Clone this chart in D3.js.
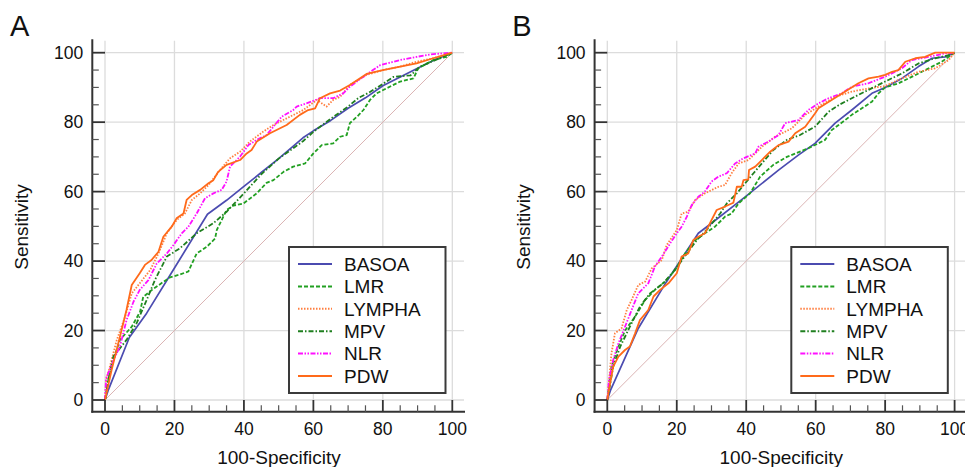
<!DOCTYPE html>
<html><head><meta charset="utf-8">
<script src="https://cdn.jsdelivr.net/npm/d3@7"></script>
<style>body{margin:0;background:#fff}svg{display:block}text{font-family:"Liberation Sans",Arial,sans-serif;fill:#111}</style>
</head><body><svg id="c" width="965" height="467"></svg>
<script>
const seriesNames = ["BASOA","LMR","LYMPHA","MPV","NLR","PDW"];
const xTicks = [0,20,40,60,80,100];
const yTicks = [0,20,40,60,80,100];
const panelLabels = ["A","B"];

// Panel A curves: [100-Specificity, Sensitivity]
const basoaA = [[0,0],[1,3],[7,18],[12,25],[20,38],[29.5,53.5],[35,57.5],[40,61.5],[45,65.5],[50,69.5],[57,75.5],[60,77.5],[65,80.5],[70,84],[75,87],[80,90.5],[85,93],[90,95.5],[95,98],[100,100]];
const lmrA = [[0,0],[1,6],[2.5,12],[4.3,17.3],[7.7,21.1],[10.1,25.4],[11,29.7],[13.5,31.7],[16.8,34],[18.7,35.3],[21.1,36],[24,37],[26.4,42.2],[29.3,44.1],[31.7,46.5],[32.2,49],[33.6,51.8],[35,54.7],[37,56],[39.9,56.6],[43.7,59.5],[46.5,62.5],[48.5,63.3],[51.4,65.7],[54.2,67.2],[57.6,68.1],[60,71],[62.4,73.4],[65.7,73.9],[67.7,75.8],[69.6,76.3],[70.5,79.7],[73,82],[74.4,83.5],[76.3,86.4],[78.2,88.3],[81,89.7],[85,91.7],[88.8,92.6],[90.2,95.5],[94.5,97.9],[98.4,98.8],[100,100]];
const lymphaA = [[0,0],[0.4,6],[1.4,9.6],[3.4,17.3],[5.8,24],[7.7,30.7],[10,33.6],[13,37.4],[15.4,42.2],[17.8,48],[20.6,51.8],[23,53.7],[25,57.6],[27.4,59.5],[29.8,61.9],[33.1,66.2],[36,69.6],[38.9,71.5],[41.7,74.4],[45.6,77.3],[48.5,79.2],[52.3,81.1],[57.1,83.5],[61,86.4],[63.8,84.5],[65.7,86.4],[67.7,87.3],[70.5,90.7],[75.3,93.6],[80,95],[85,96],[89.7,97.4],[94.5,98.4],[100,100]];
const mpvA = [[0,0],[1,6],[2.4,12.5],[6.2,17.3],[9.1,22.1],[12,28.8],[14.4,34.6],[17.8,41.3],[21.6,43.7],[26.4,48],[31.2,50.9],[35,54.2],[40,59.5],[45,65],[50,69.5],[57,74.5],[60,77.2],[65,81],[70,84.5],[73,87],[76,88.5],[80,91],[83,93],[88,93.5],[90.7,96],[96.4,98.4],[100,100]];
const nlrA = [[0,0],[0.3,6.2],[2.9,12.5],[4.3,15.4],[6.2,23],[8.2,28.3],[10,31.7],[12.5,34.5],[14.9,39.3],[17.8,42.2],[19.7,44.6],[22.1,48],[24,49.9],[26.4,53.7],[28.8,58.1],[31.2,59.5],[33.6,60.5],[35,62.9],[36,67.2],[38.9,70.1],[41.3,73.4],[43.7,74.9],[46.5,76.3],[48.5,78.7],[50.9,81.6],[54.2,83.5],[55.2,84.5],[58,85.4],[61.9,86.9],[65.7,86.9],[68.6,88.3],[70.5,90.2],[74.4,93.1],[79.2,96.4],[85,97.9],[89.7,98.8],[94.5,99.6],[100,100]];
const pdwA = [[0,0],[1.9,8.6],[4.3,18.2],[6.2,26],[7.7,33.1],[10,36.5],[11.5,38.9],[13.4,40.3],[15.4,42.7],[16.8,47],[19.2,49.9],[20.6,52.3],[22.6,53.7],[23.5,57.6],[25,59],[27.4,60.5],[29.8,62.4],[31.2,63.3],[32.6,65.7],[35,67.7],[38.9,69.1],[40.8,71],[42.2,72],[43.7,74.4],[47.5,76.8],[52.3,79.2],[56.1,82.1],[58.5,83.5],[60.5,84],[61.9,86.9],[64.8,88.3],[67.7,89.1],[70.5,90.7],[75.3,93.9],[80,95],[85,96],[89.7,96.9],[94.5,98.4],[100,100]];

// Panel B curves
const basoaB = [[0,0],[1,3],[8.9,20.6],[17,34],[26.2,48],[30,50.9],[39.7,58.5],[49.3,66.2],[55,70.5],[59.8,73.9],[65.6,79.7],[70.4,83.5],[76.2,88.3],[80,90],[84.8,92.6],[89.6,96],[93.5,98.4],[97.3,98.8],[100,100]];
const lmrB = [[0,0],[1.2,9.6],[3.2,15.4],[5.1,20],[8,24],[10.9,28.8],[13.7,31.7],[16.6,34.1],[19.5,37.4],[22.4,42.2],[25.3,46],[28.1,48],[31,49.9],[33.9,52.8],[35.8,53.7],[37.8,56.6],[41.1,59.5],[44,64.3],[47.8,67.7],[51.7,70],[55.5,71.5],[57.9,72.5],[60.8,73.9],[62.7,74.9],[64.6,77.7],[66.6,79.2],[68.5,80.6],[70.4,82.1],[73.3,84],[76.2,85.9],[78.1,88.3],[80,90],[83.9,91.2],[86.7,92.6],[89.6,94],[93.5,96],[96.3,97.4],[99.2,99.5],[100,100]];
const lymphaB = [[0,0],[1.2,13.4],[2.2,19.2],[4.1,20.6],[5.6,25.9],[7,28.8],[8.9,33.1],[10.9,34.1],[12.8,37.9],[15.7,40.3],[17.1,44.6],[20,48.9],[21.4,53.7],[23.3,54.2],[25.3,57.6],[28.1,59.5],[32,61.4],[33.9,61.9],[35.8,65.3],[37.8,68.1],[40.6,69.1],[42.6,71],[44.5,72.9],[48.3,75.8],[53.1,78.2],[57,82.1],[60.8,84.5],[65.6,87.3],[70.4,88.8],[75.2,89.7],[80,90.4],[84.8,92.6],[89.6,94.5],[94.4,95.5],[98.3,97.9],[100,100]];
const mpvB = [[0,0],[1.7,9.6],[3.7,15.3],[6.5,21.1],[9.4,26.9],[12.3,30.7],[16.1,33.6],[19,36.9],[21.9,40.8],[25.8,46.1],[28.6,49],[32.5,53.7],[34.4,56.6],[37.3,59.5],[42.1,65.3],[47.8,72],[51.7,74.9],[55.5,76.3],[59.8,78.7],[63.7,83],[66.6,84.9],[70.4,86.9],[75.2,89.3],[80,91.7],[84.8,94],[89.6,96.9],[94.4,98.4],[98.3,99.3],[100,100]];
const nlrB = [[0,0],[0.5,5.8],[1.7,11.5],[3.2,16.3],[5.1,21.1],[7,25.9],[8.9,30.7],[11.8,33.6],[13.7,38.4],[15.7,41.3],[18.1,45.1],[20,48],[21.4,49.9],[22.9,52.8],[24.3,56.1],[26.2,58.5],[28.1,60],[30,62.9],[32,64.3],[34.4,65.3],[36.8,68.1],[39.2,69.6],[42.6,71],[43.5,72.9],[46.4,74.4],[49.3,76.3],[51.2,79.7],[55,80.6],[57.9,83.5],[60.8,85.4],[63.7,86.9],[67.5,88.3],[70.4,90.2],[75.2,91.2],[80,93.1],[84.8,95.5],[87.7,97.9],[92.5,98.8],[97.3,99.8],[100,100]];
const pdwB = [[0,0],[0.3,1.9],[1.7,9.6],[3.2,12.5],[5.1,14.4],[6.5,15.4],[8,19.2],[9.4,23],[11.8,25.9],[13.3,29.8],[15.2,31.7],[17.6,33.6],[20,36.5],[21.4,41.3],[23.3,42.2],[24.8,46.1],[26.2,47],[28.1,48],[30,51.8],[31.5,54.7],[33.9,55.7],[36.3,56.8],[37.3,61.4],[38.7,61.4],[39.2,63.3],[40.6,63.5],[40.8,66.2],[42.6,67.2],[44.5,69.1],[46.9,71.5],[49.3,73.4],[52.2,74.4],[54.1,76.8],[57,78.7],[59.8,82.5],[60.8,84],[64.6,86.4],[68.5,88.8],[72.3,91.2],[75.2,92.6],[78.1,93.1],[80,93.6],[82,94.5],[83.8,95],[85.8,97.4],[88.7,98.4],[91.5,98.8],[94.4,100],[100,100]];

const panelData = [
  [basoaA, lmrA, lymphaA, mpvA, nlrA, pdwA],
  [basoaB, lmrB, lymphaB, mpvB, nlrB, pdwB]
];

const styles = [
  {color:"#4b4bb0", dash:null, w:1.7},
  {color:"#22a022", dash:"4,2", w:1.8},
  {color:"#ff7f40", dash:"1.5,1.5", w:1.8},
  {color:"#1f7f1f", dash:"5,2,1.5,2", w:1.8},
  {color:"#ff10ff", dash:"5,1.5,1.5,1.5,1.5,1.5", w:1.8},
  {color:"#ff6a1a", dash:null, w:1.8}
];

const svg = d3.select("#c");
const panelOffsets = [0, 502.3];

panelData.forEach((curves, pi) => {
  const ox = panelOffsets[pi];
  const g = svg.append("g").attr("transform", `translate(${ox},0)`);
  const x = d3.scaleLinear().domain([0,100]).range([105, 452.3]);
  const y = d3.scaleLinear().domain([0,100]).range([400, 52.7]);
  const axisX = 92.3, axisY = 411.8;

  // grid
  g.append("g").selectAll("line.vg").data(xTicks).join("line")
    .attr("x1", d=>x(d)).attr("x2", d=>x(d)).attr("y1", 40.7).attr("y2", 400)
    .attr("stroke", "#dcdcdc").attr("stroke-width", 1.3);
  g.append("g").selectAll("line.hg").data(yTicks).join("line")
    .attr("x1", 105).attr("x2", pi===0 ? 464 : 470).attr("y1", d=>y(d)).attr("y2", d=>y(d))
    .attr("stroke", "#dcdcdc").attr("stroke-width", 1.3);

  // diagonal
  g.append("line").attr("x1", x(0)).attr("y1", y(0)).attr("x2", x(100)).attr("y2", y(100))
    .attr("stroke", "#dbb4b4").attr("stroke-width", 1);

  // curves
  const line = d3.line().x(d=>x(d[0])).y(d=>y(d[1]));
  curves.forEach((c, i) => {
    const s = styles[i];
    g.append("path").datum(c).attr("d", line).attr("fill","none")
      .attr("stroke", s.color).attr("stroke-width", s.w)
      .attr("stroke-dasharray", s.dash).attr("stroke-linejoin","round");
  });

  // y axis
  const yMinor = d3.range(0, 101, 5).filter(v => v % 20 !== 0);
  const yAx = g.append("g").attr("transform", `translate(${axisX},0)`);
  yAx.append("line").attr("x1",0).attr("x2",0).attr("y1",39.3).attr("y2",axisY+1).attr("stroke","#333").attr("stroke-width",2);
  yAx.selectAll("line.maj").data(yTicks).join("line").attr("x1",0).attr("x2",x(0)-axisX).attr("y1",d=>y(d)).attr("y2",d=>y(d)).attr("stroke","#333").attr("stroke-width",1.8);
  yAx.selectAll("line.min").data(yMinor).join("line").attr("x1",0).attr("x2",6.5).attr("y1",d=>y(d)).attr("y2",d=>y(d)).attr("stroke","#555").attr("stroke-width",1.2);
  yAx.selectAll("text").data(yTicks).join("text").attr("x",-9).attr("y",d=>y(d)).attr("dy","0.36em")
    .attr("text-anchor","end").attr("font-size",17.5).text(d=>d);

  // x axis
  const xMinor = d3.range(0, 101, 5).filter(v => v % 20 !== 0);
  const xAx = g.append("g").attr("transform", `translate(0,${axisY})`);
  xAx.append("line").attr("x1",axisX-1).attr("x2", pi===0 ? 465 : 470).attr("y1",0).attr("y2",0).attr("stroke","#333").attr("stroke-width",2);
  xAx.selectAll("line.maj").data(xTicks).join("line").attr("x1",d=>x(d)).attr("x2",d=>x(d)).attr("y1",0).attr("y2",y(0)-axisY).attr("stroke","#333").attr("stroke-width",1.8);
  xAx.selectAll("line.min").data(xMinor).join("line").attr("x1",d=>x(d)).attr("x2",d=>x(d)).attr("y1",0).attr("y2",-6.5).attr("stroke","#555").attr("stroke-width",1.2);
  xAx.selectAll("text").data(xTicks).join("text").attr("x",d=>x(d)).attr("y",23.6)
    .attr("text-anchor","middle").attr("font-size",17.5).text(d=>d);

  // titles
  g.append("text").attr("x", 279).attr("y", 463.5).attr("text-anchor","middle").attr("font-size",19).text("100-Specificity");
  g.append("text").attr("transform", `translate(27.5,227) rotate(-90)`).attr("text-anchor","middle").attr("font-size",19).text("Sensitivity");
  g.append("text").attr("x", 10).attr("y", 36).attr("font-size",29).text(panelLabels[pi]);

  // legend
  const lg = g.append("g");
  lg.append("rect").attr("x",289).attr("y",247).attr("width",156.5).attr("height",146)
    .attr("fill","#fff").attr("stroke","#3a3a3a").attr("stroke-width",2);
  seriesNames.forEach((n, i) => {
    const yy = 264 + i*22.4;
    const s = styles[i];
    lg.append("line").attr("x1",298).attr("x2",332).attr("y1",yy).attr("y2",yy)
      .attr("stroke",s.color).attr("stroke-width",2).attr("stroke-dasharray",s.dash);
    lg.append("text").attr("x",344).attr("y",yy).attr("dy","0.36em").attr("font-size",19).text(n);
  });
});
</script></body></html>
